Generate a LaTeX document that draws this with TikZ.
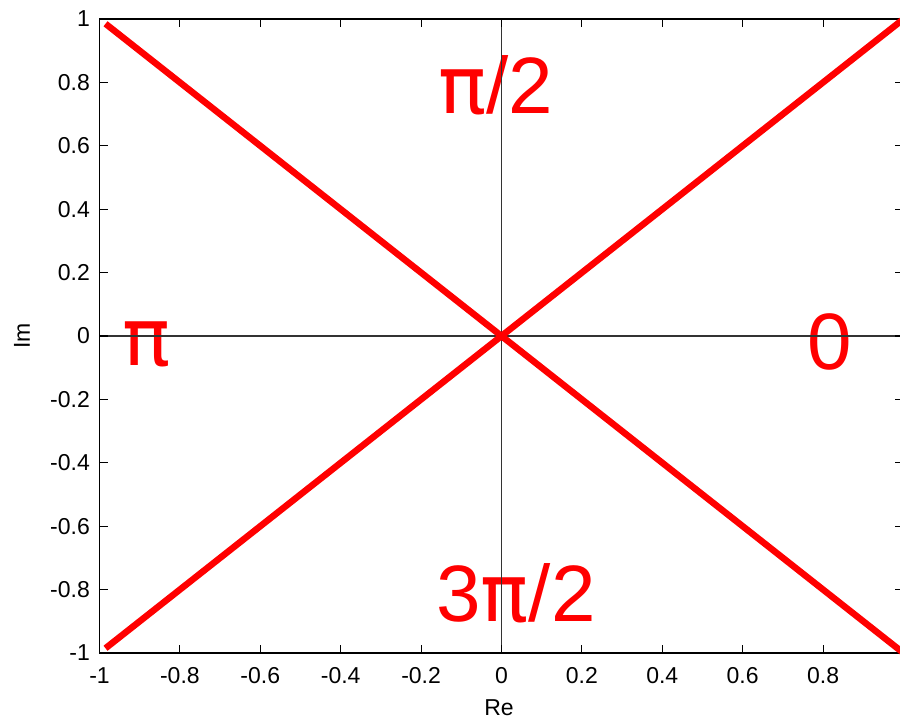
\documentclass[tikz,border=0pt]{standalone}
\usepackage{fontspec}
\setmainfont{Liberation Sans}
\newfontfamily\pifont{DejaVu Sans}
\usetikzlibrary{positioning}

\begin{document}
\begin{tikzpicture}[x=402pt, y=317pt,
        frame/.style={draw=black, line width=1.2pt},
        zeroline/.style={black!80, line width=1.7pt},
        ticmark/.style={black, line width=1.1pt},
        ticklab/.style={font=\fontsize{23}{23}\selectfont, inner sep=0pt},
        anglab/.style={text=red, font=\fontsize{80}{80}\selectfont,
                       inner sep=0pt, anchor=base},
        cross/.style={red, line width=6.5pt},
      ]
        \useasboundingbox (-1.2475,-1.2082) rectangle (0.9913,1.06);

        \node[anglab] (halfpi) at (-0.0137,0.703) {{\pifont π}/2};
        \node[anglab] (threepi) at (0.036,-0.902) {3{\pifont π}/2};
        \node[anglab] (zero) at (0.817,-0.107) {0};
        \node[anglab] (pi) at (-0.882,-0.0915) {\pifont π};

        \draw[zeroline] (-1,0) -- (1,0);
        \draw[zeroline] (0,-1) -- (0,1);

        \draw[frame] (-1,-1) rectangle (1,1);
        \foreach \t in {-0.8,-0.6,-0.4,-0.2,0,0.2,0.4,0.6,0.8} {
          \draw[ticmark] (\t,-1) -- (\t,-0.975);
          \draw[ticmark] (\t,1) -- (\t,0.975);
          \draw[ticmark] (-1,\t) -- (-0.98,\t);
          \draw[ticmark] (1,\t) -- (0.98,\t);
        }

        \foreach \t/\lab [count=\i] in {-1/-1,-0.8/-0.8,-0.6/-0.6,-0.4/-0.4,
            -0.2/-0.2,0/0,0.2/0.2,0.4/0.4,0.6/0.6,0.8/0.8} {
          \node[ticklab, anchor=base] (xl\i) at (\t,-1.0946) {\lab};
        }
        \foreach \t/\lab [count=\i] in {-1/-1,-0.8/-0.8,-0.6/-0.6,-0.4/-0.4,
            -0.2/-0.2,0/0,0.2/0.2,0.4/0.4,0.6/0.6,0.8/0.8,1/1} {
          \node[ticklab, anchor=east] (yl\i) at (-1.0236,\t) {\lab};
        }

        \node[ticklab, anchor=base] (relab) at (-0.0062,-1.1956) {Re};
        \node[ticklab, anchor=base, rotate=90] (imlab) at (-1.173,0) {Im};

        \draw[cross] (-0.985,-0.985) -- (1,1);
        \draw[cross] (-0.985,0.985) -- (1,-1);
      \end{tikzpicture}
\end{document}
